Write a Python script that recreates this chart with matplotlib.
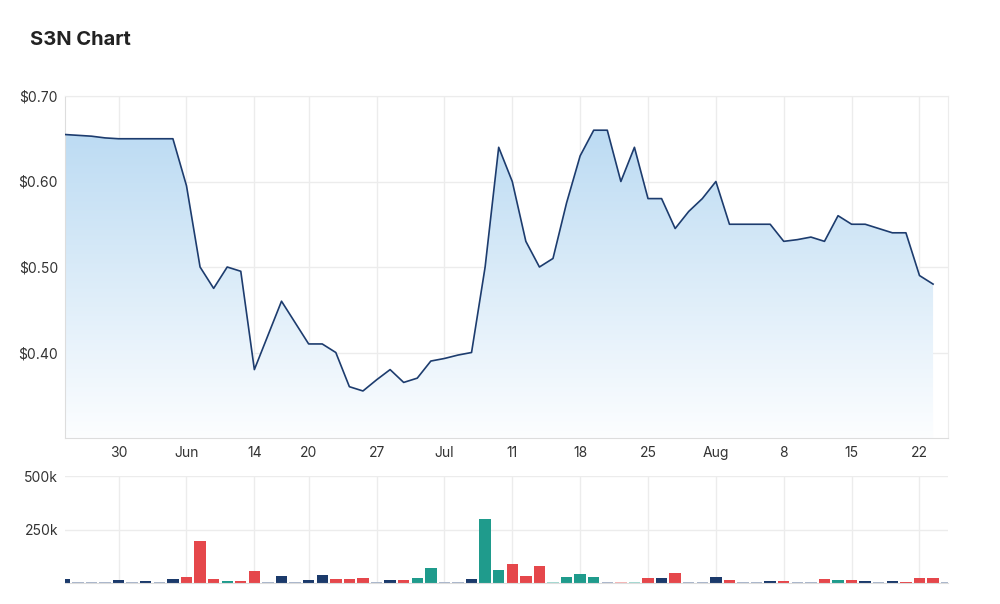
import numpy as np
import matplotlib
matplotlib.use("Agg")
import matplotlib.pyplot as plt
from matplotlib.patches import PathPatch
from matplotlib.path import Path

plt.rcParams['font.family'] = ['Inter', 'DejaVu Sans']

# trading days 24 May .. 23 Aug (ASX), x is the trading-day index
close = [0.655, 0.654, 0.653, 0.651, 0.65, 0.65, 0.65, 0.65, 0.65, 0.595,
         0.50, 0.475, 0.50, 0.495, 0.38, 0.42, 0.46, 0.435, 0.41, 0.41,
         0.40, 0.36, 0.355, 0.368, 0.38, 0.365, 0.37, 0.39, 0.393, 0.397,
         0.40, 0.50, 0.64, 0.60, 0.53, 0.50, 0.51, 0.575, 0.63, 0.66,
         0.66, 0.60, 0.64, 0.58, 0.58, 0.545, 0.565, 0.58, 0.60, 0.55,
         0.55, 0.55, 0.55, 0.53, 0.532, 0.535, 0.53, 0.56, 0.55, 0.55,
         0.545, 0.54, 0.54, 0.49, 0.48]

volume = [20, 7, 7, 7, 14, 7, 9, 7, 20, 30,
          197, 20, 9, 9, 55, 7, 35, 7, 14, 39,
          19, 19, 25, 7, 14, 14, 25, 71, 7, 7,
          20, 297, 60, 90, 33, 80, 7, 28, 44, 28,
          7, 7, 7, 24, 24, 49, 7, 7, 28, 14,
          7, 7, 9, 9, 7, 7, 20, 14, 14, 9,
          7, 9, 7, 24, 24, 7]  # thousands

# n = unchanged, g = no trade, r = down, t = up, p / q = faint down / up
vol_kind = "ngggngngnr" "rrtrrgngnn" "rrrgnrttgg" "nttrrrqttt" "gpqrnrggnr" "ggnrggrtrn" "gnrrrg"

tick_pos = [4, 9, 14, 18, 23, 28, 33, 38, 43, 48, 53, 58, 63]
tick_lbl = ['30', 'Jun', '14', '20', '27', 'Jul', '11', '18', '25', 'Aug', '8', '15', '22']

kind_col = {'n': '#1b3a6b', 'g': '#a9b5ca', 'r': '#e5474b', 't': '#1f9b8c',
            'p': '#f5b5b5', 'q': '#a3d8d1'}

W, H = 1000, 604
fig = plt.figure(figsize=(W / 100, H / 100), dpi=100)
fig.text(30 / W, 1 - 40 / H, 'S3N Chart', fontsize=14.5, fontweight='bold',
         color='#222222', va='center', ha='left')

x = np.arange(len(close))
xlim = (0.05, 65.1)

def pax(l, t, r, b):
    return fig.add_axes([l / W, 1 - b / H, (r - l) / W, (b - t) / H])

ax = pax(65, 96, 948, 438)
ax.set_xlim(*xlim)
ax.set_ylim(0.30, 0.70)

# gradient fill under the line
grad = np.linspace(0, 1, 256).reshape(-1, 1)
top_c = np.array([0.73, 0.855, 0.95])
bot_c = np.array([0.99, 0.995, 1.0])
img = top_c * (1 - grad[..., None]) + bot_c * grad[..., None]
img = np.repeat(img, 2, axis=1)
im = ax.imshow(img, extent=[x[0], x[-1], 0.30, 0.67], aspect='auto',
               origin='upper', zorder=1)
verts = [(x[0], 0.30)] + list(zip(x, close)) + [(x[-1], 0.30), (x[0], 0.30)]
clip = PathPatch(Path(verts), transform=ax.transData, facecolor='none', edgecolor='none')
ax.add_patch(clip)
im.set_clip_path(clip)

ax.plot(x, close, color='#1d3c6e', linewidth=1.2, zorder=3)

ax.set_yticks([0.40, 0.50, 0.60, 0.70])
ax.set_yticklabels(['$0.40', '$0.50', '$0.60', '$0.70'])
ax.set_xticks(tick_pos)
ax.set_xticklabels(tick_lbl)
ax.grid(True, color='#ececec', linewidth=1, zorder=0)
ax.set_axisbelow(True)
ax.tick_params(length=0, labelsize=10, colors='#333333')
ax.tick_params(axis='y', pad=5)
ax.tick_params(axis='x', pad=6)
for s in ax.spines.values():
    s.set_color('#ececec')
ax.spines['bottom'].set_color('#dddddd')
ax.spines['left'].set_color('#dddddd')

vax = pax(65, 476, 948, 583)
vax.set_xlim(*xlim)
vax.set_ylim(0, 500)
vx = np.arange(len(volume))
vax.bar(vx, volume, width=0.84, color=[kind_col[k] for k in vol_kind],
        linewidth=0, zorder=2)
vax.set_yticks([250, 500])
vax.set_yticklabels(['250k', '500k'])
vax.set_xticks(tick_pos)
vax.set_xticklabels([])
vax.grid(True, color='#ececec', linewidth=1, zorder=0)
vax.set_axisbelow(True)
vax.tick_params(length=0, labelsize=10, colors='#333333', pad=5)
for s in vax.spines.values():
    s.set_visible(False)
vax.spines['bottom'].set_visible(True)
vax.spines['bottom'].set_color('#dddddd')

fig.savefig('out.png', dpi=100)
